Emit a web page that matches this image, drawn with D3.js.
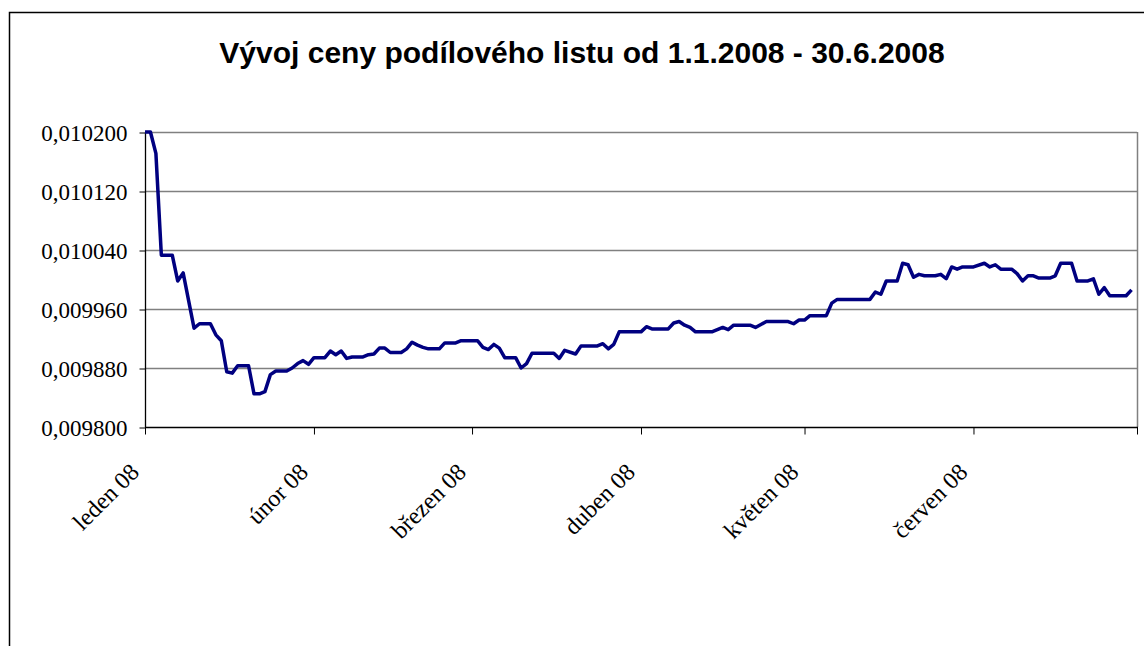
<html>
<head>
<meta charset="utf-8">
<style>
  body { margin: 0; background: #fff; }
  svg { display: block; }
</style>
<script src="https://d3js.org/d3.v7.min.js"></script>
</head>
<body>
<div id="chart"></div>
<script type="text/javascript">
// data (one vertex per day where the line changes)
var dates = [
  "2008-01-01","2008-01-02","2008-01-03","2008-01-04","2008-01-06","2008-01-07","2008-01-08","2008-01-10",
  "2008-01-11","2008-01-13","2008-01-14","2008-01-15","2008-01-16","2008-01-17","2008-01-18","2008-01-20",
  "2008-01-21","2008-01-22","2008-01-23","2008-01-24","2008-01-25","2008-01-27","2008-01-28","2008-01-29",
  "2008-01-30","2008-01-31","2008-02-01","2008-02-03","2008-02-04","2008-02-05","2008-02-06","2008-02-07",
  "2008-02-08","2008-02-10","2008-02-11","2008-02-12","2008-02-13","2008-02-14","2008-02-15","2008-02-17",
  "2008-02-18","2008-02-19","2008-02-20","2008-02-21","2008-02-22","2008-02-24","2008-02-25","2008-02-27",
  "2008-02-28","2008-03-02","2008-03-03","2008-03-04","2008-03-05","2008-03-06","2008-03-07","2008-03-09",
  "2008-03-10","2008-03-11","2008-03-12","2008-03-16","2008-03-17","2008-03-18","2008-03-20","2008-03-21",
  "2008-03-24","2008-03-25","2008-03-26","2008-03-27","2008-03-28","2008-04-01","2008-04-02","2008-04-03",
  "2008-04-06","2008-04-07","2008-04-08","2008-04-09","2008-04-10","2008-04-11","2008-04-14","2008-04-15",
  "2008-04-16","2008-04-17","2008-04-18","2008-04-21","2008-04-22","2008-04-23","2008-04-24","2008-04-28",
  "2008-04-29","2008-04-30","2008-05-01","2008-05-02","2008-05-05","2008-05-06","2008-05-07","2008-05-13",
  "2008-05-14","2008-05-15","2008-05-16","2008-05-18","2008-05-19","2008-05-20","2008-05-21","2008-05-22",
  "2008-05-23","2008-05-25","2008-05-26","2008-05-27","2008-05-28","2008-05-29","2008-05-30","2008-06-01",
  "2008-06-03","2008-06-04","2008-06-05","2008-06-06","2008-06-08","2008-06-09","2008-06-10","2008-06-11",
  "2008-06-12","2008-06-13","2008-06-15","2008-06-16","2008-06-17","2008-06-19","2008-06-20","2008-06-22",
  "2008-06-23","2008-06-24","2008-06-25","2008-06-26","2008-06-29","2008-06-30"
];
var prices = [
  0.010200,0.010200,0.010171,0.010033,0.010033,0.009998,0.010009,0.009934,
  0.009940,0.009940,0.009925,0.009917,0.009875,0.009873,0.009883,0.009883,
  0.009845,0.009845,0.009848,0.009871,0.009876,0.009876,0.009880,0.009886,
  0.009890,0.009885,0.009894,0.009894,0.009903,0.009898,0.009903,0.009893,
  0.009895,0.009895,0.009898,0.009899,0.009907,0.009907,0.009901,0.009901,
  0.009906,0.009915,0.009911,0.009908,0.009906,0.009906,0.009914,0.009914,
  0.009917,0.009917,0.009908,0.009905,0.009912,0.009907,0.009894,0.009894,
  0.009880,0.009886,0.009900,0.009900,0.009893,0.009904,0.009899,0.009910,
  0.009910,0.009913,0.009906,0.009912,0.009929,0.009929,0.009936,0.009933,
  0.009933,0.009941,0.009943,0.009938,0.009935,0.009929,0.009929,0.009932,
  0.009935,0.009932,0.009938,0.009938,0.009935,0.009939,0.009943,0.009943,
  0.009940,0.009945,0.009945,0.009951,0.009951,0.009968,0.009973,0.009973,
  0.009983,0.009980,0.009998,0.009998,0.010022,0.010020,0.010003,0.010007,
  0.010005,0.010005,0.010007,0.010001,0.010017,0.010014,0.010017,0.010017,
  0.010022,0.010017,0.010020,0.010014,0.010014,0.010008,0.009998,0.010005,
  0.010005,0.010002,0.010002,0.010005,0.010022,0.010022,0.009998,0.009998,
  0.010001,0.009980,0.009989,0.009978,0.009978,0.009986
];
var monthTicks = ["2008-01-01","2008-02-01","2008-03-01","2008-04-01","2008-05-01","2008-06-01","2008-07-01"];
var monthLabels = ["leden 08","únor 08","březen 08","duben 08","květen 08","červen 08",""];
var yTicks = [0.009800, 0.009880, 0.009960, 0.010040, 0.010120, 0.010200];
var title = "Vývoj ceny podílového listu od 1.1.2008 - 30.6.2008";

var W = 1144, H = 646;
var plotLeft = 145, plotRight = 1137, plotTop = 132, plotBottom = 427;

var parse = d3.timeParse("%Y-%m-%d");
var data = dates.map(function (d, i) { return { date: parse(d), price: prices[i] }; });

var cz = d3.formatLocale({ decimal: ",", thousands: " ", grouping: [3], currency: ["", " Kč"] });
var fmt = cz.format(".6f");

var svg = d3.select("#chart").append("svg").attr("width", W).attr("height", H);

// outer chart frame (runs off the page right and bottom)
svg.append("rect")
  .attr("x", 9.5).attr("y", 12.5)
  .attr("width", 1300).attr("height", 800)
  .attr("fill", "#fff").attr("stroke", "#000").attr("stroke-width", 1.5);

svg.append("text")
  .attr("x", 582).attr("y", 63)
  .attr("text-anchor", "middle")
  .style("font-family", "'Liberation Sans', Arial, sans-serif")
  .style("font-weight", "bold")
  .style("font-size", "30px")
  .text(title);

var x = d3.scaleTime()
  .domain([parse("2008-01-01"), parse("2008-07-01")])
  .range([plotLeft, plotRight]);
var y = d3.scaleLinear()
  .domain([0.0098, 0.0102])
  .range([plotBottom, plotTop]);

// gridlines
svg.append("g").selectAll("line")
  .data(yTicks.slice(1))
  .enter().append("line")
    .attr("x1", plotLeft).attr("x2", plotRight)
    .attr("y1", function (d) { return Math.round(y(d)) + 0.5; })
    .attr("y2", function (d) { return Math.round(y(d)) + 0.5; })
    .attr("stroke", "#808080").attr("stroke-width", 1.3);

// right edge of plot area
svg.append("line")
  .attr("x1", plotRight + 0.5).attr("x2", plotRight + 0.5)
  .attr("y1", plotTop).attr("y2", plotBottom)
  .attr("stroke", "#808080").attr("stroke-width", 1.5);

var yAxis = svg.append("g")
  .attr("transform", "translate(" + (plotLeft + 0.5) + ",0.5)")
  .call(d3.axisLeft(y).tickValues(yTicks).tickSize(6).tickPadding(12).tickFormat(fmt));
yAxis.select(".domain").attr("d", "M0," + plotTop + "V" + plotBottom).attr("stroke", "#000").attr("stroke-width", 1.3);
yAxis.selectAll(".tick line").attr("stroke", "#000");
yAxis.selectAll("text")
  .attr("dy", "0.34em")
  .style("font-family", "'Liberation Serif', 'Times New Roman', serif")
  .style("font-size", "23px")
  .attr("fill", "#000");

var xAxis = svg.append("g")
  .attr("transform", "translate(0," + (plotBottom + 0.5) + ")")
  .call(d3.axisBottom(x)
    .tickValues(monthTicks.map(parse))
    .tickSize(7)
    .tickFormat(function (d, i) { return monthLabels[i]; }));
xAxis.select(".domain").attr("d", "M" + plotLeft + ",0H" + (plotRight + 1)).attr("stroke", "#000").attr("stroke-width", 1.3);
xAxis.selectAll(".tick line").attr("stroke", "#000");
xAxis.selectAll("text")
  .attr("y", 0).attr("dy", 0)
  .attr("text-anchor", "end")
  .attr("transform", "translate(-5,46) rotate(-45)")
  .style("font-family", "'Liberation Serif', 'Times New Roman', serif")
  .style("font-size", "24px")
  .attr("fill", "#000");

var line = d3.line()
  .x(function (d) { return x(d.date); })
  .y(function (d) { return y(d.price); });

svg.append("path")
  .datum(data)
  .attr("d", line)
  .attr("fill", "none")
  .attr("stroke", "#000080")
  .attr("stroke-width", 3.5)
  .attr("stroke-linejoin", "round");
</script>
</body>
</html>
